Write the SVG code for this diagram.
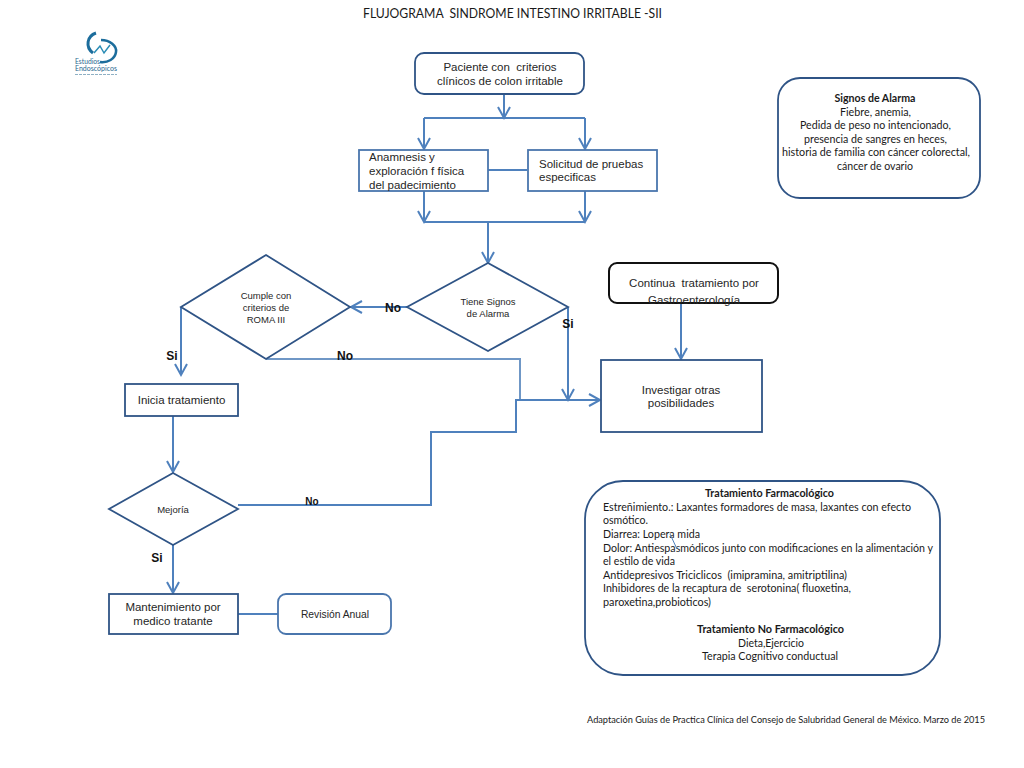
<svg xmlns="http://www.w3.org/2000/svg" width="1024" height="768" viewBox="0 0 1024 768">
<style>
text{font-family:"Liberation Sans",Arial,sans-serif;fill:#262626;white-space:pre}
.c{font-family:Lato,"Noto Sans",sans-serif;fill:#1a1a1a}
.m{text-anchor:middle}
.b{font-weight:bold}
.n{fill:#fff;stroke:#2f5486;stroke-width:1.8}
.n2{fill:#fff;stroke:#4a76ad;stroke-width:1.8}
.k{fill:#fff;stroke:#111;stroke-width:2}
.l{fill:none;stroke:#4f81bd;stroke-width:2}
.t12{font-size:11.5px}.t11{font-size:10.5px}.t10{font-size:10px}.t9{font-size:9.5px}
.lb{font-size:12px;fill:#111}
</style>
<defs>
<marker id="a" markerUnits="userSpaceOnUse" markerWidth="16" markerHeight="14" refX="12" refY="7" orient="auto">
<path d="M1 1L12 7L1 13" fill="none" stroke="#4f81bd" stroke-width="2"/>
</marker>
</defs>
<rect width="1024" height="768" fill="#fff"/>
<text id="title" class="c m" x="512.5" y="18" font-size="13.5" textLength="299" lengthAdjust="spacingAndGlyphs">FLUJOGRAMA  SINDROME INTESTINO IRRITABLE -SII</text>
<g id="logo">
<path d="M96 33C87 36 85 47 93 53" fill="none" stroke="#1c6d9c" stroke-width="3"/>
<path d="M101 40C110 40 117 46 116 52C115 59 108 63 100 62" fill="none" stroke="#1c6d9c" stroke-width="2.500"/>
<path d="M94 53L100 46L104 53L110 45" fill="none" stroke="#2a8cb5" stroke-width="1.500"/>
<text class="c" x="75" y="64" font-size="7" textLength="25" lengthAdjust="spacingAndGlyphs" style="fill:#27678f">Estudios</text>
<text class="c" x="75" y="71" font-size="7" textLength="42" lengthAdjust="spacingAndGlyphs" style="fill:#27678f">Endoscópicos</text>
<path d="M75 74.500H117" stroke="#8fb0c4" stroke-width="1" stroke-dasharray="3 1"/>
</g>
<g id="connectors">
<path class="l" d="M424 118H585"/>
<path class="l" d="M424 118V149" marker-end="url(#a)"/>
<path class="l" d="M585 118V149" marker-end="url(#a)"/>
<path class="l" d="M504 94V118" marker-end="url(#a)"/>
<path class="l" d="M488 170H527"/>
<path class="l" d="M424 191V222" marker-end="url(#a)"/>
<path class="l" d="M585 191V222" marker-end="url(#a)"/>
<path class="l" d="M424 222H585"/>
<path class="l" d="M488 222V263" marker-end="url(#a)"/>
<path class="l" d="M407 307H351" marker-end="url(#a)"/>
<path class="l" d="M568 307V400" marker-end="url(#a)"/>
<path class="l" d="M181 307V375" marker-end="url(#a)"/>
<path class="l" d="M266 359H520V400" style="stroke:#6f97c6"/>
<path class="l" d="M238 505H431V432H516V400H600" marker-end="url(#a)"/>
<path class="l" d="M173 416V472" marker-end="url(#a)"/>
<path class="l" d="M173 545V593" marker-end="url(#a)"/>
<path class="l" d="M238 614H278"/>
<path class="l" d="M681 303V359" marker-end="url(#a)"/>
</g>
<g id="paciente">
<rect class="n" x="415" y="53" width="169" height="41" rx="9"/>
<text class="m t12" x="500" y="71">Paciente con  criterios</text>
<text class="m t12" x="500" y="85">clínicos de colon irritable</text>
</g>
<g id="anamnesis">
<rect class="n2" x="359" y="150" width="129" height="41"/>
<text class="t12" x="369" y="161">Anamnesis y</text>
<text class="t12" x="369" y="175">exploración f física</text>
<text class="t12" x="369" y="189">del padecimiento</text>
</g>
<g id="solicitud">
<rect class="n2" x="528" y="150" width="129" height="41"/>
<text class="t12" x="539" y="168">Solicitud de pruebas</text>
<text class="t12" x="539" y="181">especificas</text>
</g>
<g id="alarma">
<rect class="n" x="778" y="78" width="202" height="120" rx="22"/>
<text class="c m b t11" x="875" y="102" textLength="81" lengthAdjust="spacingAndGlyphs">Signos de Alarma</text>
<text class="c m t11" x="875.500" y="116" textLength="71" lengthAdjust="spacingAndGlyphs">Fiebre, anemia,</text>
<text class="c m t11" x="875.500" y="129" textLength="151" lengthAdjust="spacingAndGlyphs">Pedida de peso no intencionado,</text>
<text class="c m t11" x="875.500" y="143" textLength="143" lengthAdjust="spacingAndGlyphs">presencia de sangres en heces,</text>
<text class="c m t11" x="876" y="156" textLength="188" lengthAdjust="spacingAndGlyphs">historia de familia con cáncer colorectal,</text>
<text class="c m t11" x="875" y="170" textLength="76" lengthAdjust="spacingAndGlyphs">cáncer de ovario</text>
</g>
<g id="continua">
<rect class="k" x="609" y="263" width="169" height="40" rx="8"/>
<text class="m t12" x="694" y="287">Continua  tratamiento por</text>
<text class="m t12" x="694" y="304">Gastroenterología</text>
</g>
<g id="signos">
<polygon class="n" points="488,263 568,307 488,351 407,307"/>
<text class="m t9" x="488" y="305">Tiene Signos</text>
<text class="m t9" x="488" y="317">de Alarma</text>
</g>
<g id="roma">
<polygon class="n" points="266,255 350,307 266,359 181,307"/>
<text class="m t9" x="266" y="299">Cumple con</text>
<text class="m t9" x="266" y="311">criterios de</text>
<text class="m t9" x="266" y="323">ROMA III</text>
</g>
<g id="investigar">
<rect class="n" x="601" y="360" width="161" height="72"/>
<text class="m t12" x="681" y="394">Investigar otras</text>
<text class="m t12" x="681" y="407">posibilidades</text>
</g>
<g id="inicia">
<rect class="n" x="125" y="384" width="113" height="32"/>
<text class="m t12" x="181.500" y="404">Inicia tratamiento</text>
</g>
<g id="mejoria">
<polygon class="n" points="173,473 238,509 173,545 109,509"/>
<text class="m t9" x="173" y="513">Mejoría</text>
</g>
<g id="mantenimiento">
<rect class="n" x="109" y="594" width="129" height="40"/>
<text class="m t12" x="173" y="611">Mantenimiento por</text>
<text class="m t12" x="173" y="625">medico tratante</text>
</g>
<g id="revision">
<rect class="n2" x="278" y="594" width="113" height="40" rx="8"/>
<text class="m" font-size="10.300" x="335" y="618">Revisión Anual</text>
</g>
<g id="tratamiento">
<rect class="n" x="585" y="481" width="355" height="194" rx="38"/>
<text class="c m b t11" x="769.500" y="497" textLength="129" lengthAdjust="spacingAndGlyphs">Tratamiento Farmacológico</text>
<g class="t11">
<text class="c" x="603" y="511" textLength="308" lengthAdjust="spacingAndGlyphs">Estreñimiento.: Laxantes formadores de masa, laxantes con efecto</text>
<text class="c" x="603" y="524" textLength="45" lengthAdjust="spacingAndGlyphs">osmótico.</text>
<text class="c" x="603" y="538" textLength="97" lengthAdjust="spacingAndGlyphs">Diarrea: Lopera mida</text>
<text class="c" x="603" y="552" textLength="330" lengthAdjust="spacingAndGlyphs">Dolor: Antiespasmódicos junto con modificaciones en la alimentación y</text>
<text class="c" x="603" y="565" textLength="72" lengthAdjust="spacingAndGlyphs">el estilo de vida</text>
<text class="c" x="603" y="579" textLength="244" lengthAdjust="spacingAndGlyphs">Antidepresivos Triciclicos  (imipramina, amitriptilina)</text>
<text class="c" x="603" y="592" textLength="248" lengthAdjust="spacingAndGlyphs">Inhibidores de la recaptura de  serotonina( fluoxetina,</text>
<text class="c" x="603" y="606" textLength="108" lengthAdjust="spacingAndGlyphs">paroxetina,probioticos)</text>
</g>
<text class="c m b t11" x="770.500" y="633" textLength="147" lengthAdjust="spacingAndGlyphs">Tratamiento No Farmacológico</text>
<text class="c m t11" x="771" y="647" textLength="66" lengthAdjust="spacingAndGlyphs">Dieta,Ejercicio</text>
<text class="c m t11" x="770" y="660" textLength="136" lengthAdjust="spacingAndGlyphs">Terapia Cognitivo conductual</text>
<path d="M670 534L677 549" fill="none" stroke="#4f81bd" stroke-width="1"/>
</g>
<g id="labels">
<text class="b m lb" x="393" y="312">No</text>
<text class="b m lb" x="568" y="328">Si</text>
<text class="b m lb" x="172" y="360">Si</text>
<text class="b m lb" x="345" y="360">No</text>
<text class="b m t10" x="312" y="505" style="fill:#111">No</text>
<text class="b m lb" x="157" y="562">Si</text>
</g>
<text id="source" class="c" x="587" y="723" font-size="9.700" textLength="398" lengthAdjust="spacingAndGlyphs">Adaptación Guías de Practica Clínica del Consejo de Salubridad General de México. Marzo de 2015</text>
</svg>
